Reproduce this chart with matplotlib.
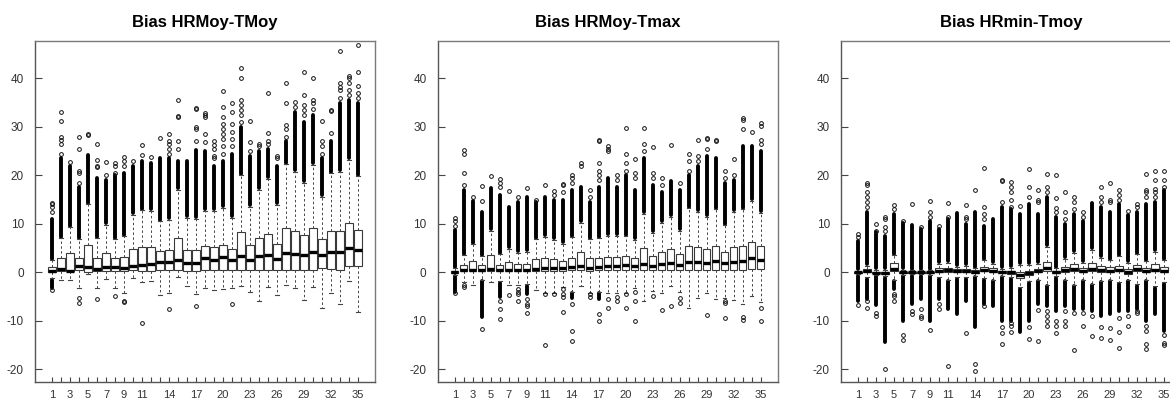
import numpy as np
import matplotlib
matplotlib.use("Agg")
import matplotlib.pyplot as plt

plt.rcParams['font.family'] = ['Liberation Sans', 'DejaVu Sans']

NAN = float('nan')
POSITIONS = list(range(1, 36))
XTICK_LABELS = ['1', '3', '5', '7', '9', '11', '14', '17', '20', '23', '26', '29', '32', '35']
YTICKS = [-20, -10, 0, 10, 20, 30, 40]
TITLES = ['Bias HRMoy-TMoy', 'Bias HRMoy-Tmax', 'Bias HRmin-Tmoy']

# ---------------- Panel 1 : Bias HRMoy-TMoy ----------------
P1_Q1 = [0, 0.3, 0.2, 0.4, 0.1, 0.3, 0.3, 0.3, 0.2, 0.4, 0.3, 0.3, 0.4, 0.4, 0.5, 0.3, 0.3, 0.5, 0.4, 0.5,
         0.5, 0.4, 0.5, 0.4, 0.4, 0.4, 0.4, 0.4, 0.4, 0.5, 1.0, 0.6, 0.4, 1.4, 1.4]
P1_MED = [0.3, 0.6, 0.3, 1.3, 1.2, 0.7, 1.1, 1.1, 1.0, 1.4, 1.6, 1.8, 2.2, 2.1, 2.5, 1.9, 1.9, 3.0, 2.5, 3.1,
          2.6, 3.3, 2.5, 3.3, 3.5, 2.8, 3.9, 3.8, 3.5, 4.3, 3.6, 4.2, 4.2, 5.1, 4.6]
P1_Q3 = [1.2, 3.0, 3.9, 2.9, 5.7, 2.9, 4.0, 2.9, 3.1, 4.9, 5.3, 5.2, 4.5, 4.6, 7.0, 4.7, 4.7, 5.4, 5.3, 5.6,
         4.9, 8.3, 5.7, 7.1, 8.0, 5.8, 9.2, 8.5, 7.7, 9.2, 6.9, 8.6, 8.6, 10.2, 8.8]
P1_WHI = [2.5, 7, 9.3, 6.8, 14, 7, 9.8, 6.8, 7.4, 11.8, 12.8, 12.7, 10.5, 10.8, 17, 11.3, 11, 12.7, 12.7, 13.3,
          11.3, 20, 13.5, 17, 19.3, 13.9, 22.3, 20.7, 18.5, 22.2, 15.5, 20.4, 20.7, 23.2, 19.8]
P1_WLO = [-1.2, -1.5, -1.5, -3.3, -0.3, -3.3, -1.3, -3.3, -4.3, -1.1, -2.0, -1.7, -4.7, -4.2, -1, -2.8, -4.5, -3.3,
          -3.7, -3.5, -3.2, -2.8, -4.1, -5.8, -3, -4.7, -2.7, -3.3, -5.7, -3.1, -7.4, -4.3, -6.5, -1.8, -8.2]
P1_UP_DENSE = [11, 23.5, 22, 17.5, 24.3, 19.5, 19, 20, 20.5, 22, 23, 22.5, 23.5, 23.5, 23, 23, 25.3, 25, 22, 23,
               24.5, 30, 24, 25, 25.5, 22, 27, 33, 31, 32.5, 23.5, 27, 35, 35.5, 35]
P1_LO_DENSE = [-3.3] + [NAN] * 34
P1_UP_SPARSE = [[12.5, 13.5, 14, 14.3], [24.5, 26.5, 27.2, 28, 31.2, 33], [22.7], [18.5, 20.5, 21, 25.5, 28],
                [28.3, 28.5], [21.8, 22, 23.2, 26.5], [20, 22.8], [20.5, 22, 22.6], [22, 23, 23.8], [23],
                [24.3, 26.3], [23.8], [27.8], [24.5, 25.5, 26.5, 27, 28.6], [25.5, 27, 32, 32.3, 35.6], [],
                [27, 29.5, 30, 33.6, 33.8], [26.8, 28.5, 32, 32.5, 32.8], [23.5, 24, 25.5, 26.2, 27],
                [24.5, 26, 27.5, 28.5, 29.5, 30.5, 32, 34, 37.4], [26, 27.5, 29, 30.5, 33, 35],
                [31, 32.5, 33.5, 34.5, 35.5, 40, 42.2], [25, 26.8, 31.2], [26, 26.5], [26.5, 27, 28.7, 37],
                [23.5, 24], [28, 29.5, 30.3, 35, 39], [34, 35.2], [32.5, 33.5, 34.5, 36.6, 41.4],
                [33.7, 35, 35.6, 40], [24.5, 26, 27, 31.3], [28.7, 33.2, 33.5], [36, 37.5, 38.3, 39, 45.7],
                [36.5, 37.5, 39, 40, 40.5], [36, 37, 38.5, 41.3, 46.8]]
P1_LO_SPARSE = [[-3.6], [], [], [-5.2, -6.3], [], [-5.4], [], [-4.9], [-5.8, -6.2], [], [-10.5], [], [],
                [-7.6], [], [], [-6.9], [], [], [], [-6.6], [], [], [], [], [], [], [], [], [], [], [], [], [], []]

# ---------------- Panel 2 : Bias HRMoy-Tmax ----------------
P2_Q1 = [-0.1, 0.2, 0.2, 0.2, 0.3, 0.2, 0.2, 0.2, 0.2, 0.3, 0.3, 0.3, 0.3, 0.4, 0.4, 0.3, 0.4, 0.4, 0.4, 0.4,
         0.4, 0.4, 0.4, 0.4, 0.4, 0.4, 0.4, 0.4, 0.4, 0.5, 0.5, 0.5, 0.5, 0.6, 0.6]
P2_MED = [0.1, 0.4, 0.4, 0.5, 0.7, 0.4, 0.5, 0.5, 0.5, 0.7, 0.8, 0.8, 1.0, 1.1, 1.3, 1.0, 1.1, 1.4, 1.4, 1.6,
          1.3, 1.8, 1.3, 1.8, 1.9, 1.6, 2.2, 2.1, 2.0, 2.4, 2.0, 2.2, 2.4, 2.9, 2.5]
P2_Q3 = [0.3, 1.6, 2.4, 1.5, 3.5, 1.6, 2.1, 1.8, 1.8, 2.8, 3.0, 2.7, 2.4, 2.9, 4.2, 2.9, 3.0, 3.1, 3.2, 3.3,
         2.9, 5.0, 3.4, 4.3, 4.9, 3.7, 5.5, 5.2, 4.8, 5.5, 4.3, 5.3, 5.5, 6.3, 5.4]
P2_WHI = [0.8, 3.5, 5.8, 3.3, 8.5, 3.7, 4.8, 4.0, 4.2, 6.8, 7.3, 6.7, 5.9, 7.2, 10.2, 6.8, 7.0, 7.5, 7.6, 7.4,
          6.7, 12, 8.2, 10.2, 11.5, 8.6, 13.2, 12.5, 11.5, 13, 9.7, 12.5, 13, 14.7, 12.3]
P2_WLO = [-0.5, -2, -2.6, -1.5, -2, -1.8, -2.6, -2.6, -2.4, -3.6, -4.3, -4.2, -3, -4, -2.8, -4.2, -4, -4.3, -4.2,
          -4.3, -3.3, -6, -3.8, -4.3, -2.9, -4, -7.3, -5.3, -4.2, -5.5, -5.3, -5.6, -6.5, -4.8, -6.1]
P2_UP_DENSE = [8.8, 17, 14.7, 12.5, 17.3, 16, 13.4, 14.5, 15.5, 14.5, 15.5, 15, 15, 17, 17.5, 14.5, 17.5, 19.5,
               17.5, 20, 17, 23.5, 18, 16.5, 18.8, 17, 20, 22, 24, 23.5, 18.5, 19, 26, 26, 25]
P2_LO_DENSE = [-4, NAN, NAN, -9.3, NAN, -5, NAN, NAN, -4.5, NAN, NAN, NAN, NAN, -5.2, NAN, NAN, -5.5, NAN,
               NAN, NAN, NAN, NAN, NAN, NAN, NAN, NAN, NAN, NAN, NAN, NAN, NAN, NAN, NAN, NAN, NAN]
P2_UP_SPARSE = [[9.5, 10.5, 11.3], [18, 20.5, 24.5, 25.2], [15.5], [14.8, 17.8], [19.8], [17.5, 18.5, 19.2],
                [16.8], [15.5], [17.3], [15], [18.1], [16, 16.7], [16.5, 18, 18.3], [18.5, 19.5, 20], [22, 22.5],
                [15.5, 17], [19, 20, 21, 22.5, 27, 27.3], [25, 25.5, 26], [19, 20], [21, 22.5, 24.5, 29.8],
                [19.5, 20.5, 23.3], [25, 26.5, 29.8], [19.5, 20.5, 25.8], [18, 19.5], [26.2], [18.5],
                [21, 23, 24.5], [23, 24, 27.3], [25.5, 27.5, 27.8], [27, 27.3], [19.5, 21], [20, 23.3],
                [29.6, 31.5, 31.9], [29], [26.5, 27.3, 30.1, 30.7]]
P2_LO_SPARSE = [[-4.3], [-2.5, -3], [], [-11.7], [], [-6, -7.5, -9.6], [-4.7], [-3.5, -4, -4.5, -6],
                [-5.5, -6.5, -7, -8.4], [], [-4.5, -15], [-4.5], [-3.5, -4.5, -5, -8.2], [-6.5, -12, -14.2], [],
                [-4.5, -5], [-8.5, -10], [-5.5, -7.3], [-5, -6], [-4.5, -7.3], [-4, -6, -10.1], [], [-4.8],
                [-7.7], [-7], [-5.3, -6.3], [], [], [-8.8], [], [-6, -6.3, -9.4], [], [-9.3, -9.9], [],
                [-7.3, -10]]

# ---------------- Panel 3 : Bias HRmin-Tmoy ----------------
P3_Q1 = [-0.1, 0, -0.2, -0.3, 0.3, -0.2, -0.1, -0.1, -0.1, 0.1, 0.1, 0, 0, -0.1, 0.2, 0.1, -0.2, -0.3, -1.2, -0.6,
         0, 0.2, -0.2, 0.1, 0.2, 0.1, 0.2, 0.1, 0.1, 0.2, -0.3, 0.2, 0, 0.2, 0]
P3_MED = [0, 0.2, -0.1, -0.1, 0.6, 0, 0, 0, 0, 0.3, 0.4, 0.2, 0.2, 0, 0.5, 0.3, 0, 0, -0.6, -0.1,
          0.3, 0.8, 0, 0.4, 0.6, 0.3, 0.6, 0.4, 0.3, 0.5, 0, 0.6, 0.2, 0.5, 0.2]
P3_Q3 = [0.1, 0.6, 0.1, 0.1, 1.9, 0.1, 0.1, 0.1, 0.1, 0.8, 0.9, 0.6, 0.6, 0.4, 1.2, 0.8, 0.2, 0.3, 0.1, 0.3,
         0.7, 2.2, 0.3, 1.2, 1.8, 0.8, 2.0, 1.3, 1.1, 1.4, 0.6, 1.6, 1.0, 1.8, 1.1]
P3_WHI = [0.3, 1.3, 0.5, 0.5, 3.5, 0.5, 0.4, 0.4, 0.4, 1.7, 1.9, 1.2, 1.3, 0.8, 2.5, 1.8, 0.7, 1.0, 1.5, 1.5,
          1.7, 5.2, 0.8, 2.8, 4.0, 2.0, 4.7, 3.0, 2.5, 3.3, 1.9, 3.7, 2.3, 4.3, 2.5]
P3_WLO = [-0.3, -1, -0.5, -0.8, -1.5, -0.5, -0.4, -0.4, -0.5, -1, -1.5, -1, -1, -0.7, -1.2, -1.5, -0.7, -1, -3,
          -1.8, -1.5, -2.5, -0.8, -1.5, -2.5, -1.5, -2.3, -1.7, -1.5, -2, -1.5, -2.4, -1.5, -2.8, -2]
P3_UP_DENSE = [6.5, 12.5, 8.3, 7.5, 12, 10.2, 9.8, 9, 10.5, 9, 11, 12.3, 10, 12.5, 9.5, 11, 13.5, 13, 12, 14,
               12, 15.5, 11.5, 10, 12, 10.5, 14.3, 13.5, 12.5, 14, 11.8, 12.5, 14, 14.5, 17]
P3_LO_DENSE = [-6, -5.5, -6.8, -14.3, -3.5, -10, -6.5, -5.5, -10, -5.5, -7.5, -8.5, -6, -11.3, -6.5, -7, -10,
               -10, -12.3, -10, -6.5, -7, -8, -7, -7.5, -7.5, -8, -9, -8.5, -8, -8, -7.5, -10, -8.5, -12]
P3_UP_SPARSE = [[7.2, 8], [13.5, 14.5, 15.5, 16.5, 18, 18.4], [8.6, 10], [8.5, 9.3, 11, 11.5], [13, 13.8],
                [10.5], [14], [9.3], [11.5, 12.5, 14.7], [9.5], [11.5, 14.4], [], [11, 11.5, 13.8], [17],
                [11, 12, 13.5, 21.5], [], [14.5, 18.8, 19], [13.5, 15, 16.5, 17.5, 18.7], [13.7],
                [15.5, 17.5, 21.3], [14.5, 15, 17], [16.5, 17.5, 20.3], [12.5, 13.2, 15.3, 20.1],
                [11, 12.5, 16.5], [13, 14.5, 15.5], [11.5, 12.5], [], [14.5, 15.5, 17.5], [14.5, 15, 18.5],
                [15, 16, 17], [12.7], [13.5, 14], [15.5, 16.5, 17, 20.2], [15.5, 16.5, 17.2, 19, 21],
                [17.5, 19, 20.8]]
P3_LO_SPARSE = [[-6.8], [-6, -7.3], [-8.3, -9], [-20], [-4.5, -4.9, -6], [-13, -14], [-8, -8.5],
                [-7.5, -9, -9.5], [-11.8], [-6.5, -7.5], [-19.2], [], [-12.5], [-18.9, -20.4], [-7], [],
                [-11.3, -12.5, -14.8], [-10.5, -11, -12.3], [], [-11.3, -13.7], [-7.8, -14.2],
                [-8, -9, -10, -11], [-10, -11, -12.5], [-8, -10, -11], [-8.3, -16], [-8.3, -11], [-9, -13.2],
                [-11.3, -13.5], [-11.5, -14], [-9.5, -12.3, -15.5], [-9, -11], [-8, -8.3],
                [-11, -12, -14.7, -15.8], [], [-13, -14.5, -15]]

PANELS = [
    (P1_Q1, P1_MED, P1_Q3, P1_WLO, P1_WHI, P1_UP_DENSE, P1_LO_DENSE, P1_UP_SPARSE, P1_LO_SPARSE),
    (P2_Q1, P2_MED, P2_Q3, P2_WLO, P2_WHI, P2_UP_DENSE, P2_LO_DENSE, P2_UP_SPARSE, P2_LO_SPARSE),
    (P3_Q1, P3_MED, P3_Q3, P3_WLO, P3_WHI, P3_UP_DENSE, P3_LO_DENSE, P3_UP_SPARSE, P3_LO_SPARSE),
]

# ---------------- Layout / style ----------------
FIG_W, FIG_H = 1170, 403
AX_LEFTS_PX = [35, 437.7, 841]
AX_W_PX = 340
AX_TOP_PX, AX_BOT_PX = 41, 382
GAP = 0.35  # offset between whisker end and first outlier

fig = plt.figure(figsize=(FIG_W / 100, FIG_H / 100), dpi=100)

for k, (q1, med, q3, wlo, whi, upd, lod, ups, los) in enumerate(PANELS):
    ax = fig.add_axes([AX_LEFTS_PX[k] / FIG_W, 1 - AX_BOT_PX / FIG_H,
                       AX_W_PX / FIG_W, (AX_BOT_PX - AX_TOP_PX) / FIG_H])
    stats = []
    for i in range(35):
        stats.append(dict(med=med[i], q1=q1[i], q3=q3[i], whislo=wlo[i], whishi=whi[i],
                          fliers=list(ups[i]) + list(los[i])))
    # dense outlier columns
    xs = np.array(POSITIONS, dtype=float)
    upd_a = np.array(upd, dtype=float)
    lod_a = np.array(lod, dtype=float)
    whi_a = np.array(whi, dtype=float)
    wlo_a = np.array(wlo, dtype=float)
    m = ~np.isnan(upd_a)
    ax.vlines(xs[m], whi_a[m] + GAP, upd_a[m], colors='black', linewidth=2.8,
              capstyle='round', zorder=3)
    m = ~np.isnan(lod_a)
    ax.vlines(xs[m], wlo_a[m] - GAP, lod_a[m], colors='black', linewidth=2.8,
              capstyle='round', zorder=3)

    ax.bxp(stats, positions=POSITIONS, widths=0.8, showfliers=True, patch_artist=True,
           boxprops=dict(facecolor='white', edgecolor='#3a3a3a', linewidth=0.8),
           medianprops=dict(color='black', linewidth=2.4, solid_capstyle='butt'),
           whiskerprops=dict(color='#444444', linewidth=0.7, linestyle=(0, (2.5, 2.5))),
           capprops=dict(color='#444444', linewidth=0.8),
           capwidths=0.4,
           flierprops=dict(marker='o', markersize=2.7, markerfacecolor='none',
                           markeredgecolor='#111111', markeredgewidth=0.7),
           zorder=4)

    ax.set_xlim(-0.9, 36.9)
    ax.set_ylim(-22.6, 47.7)
    ax.set_xticks(POSITIONS)
    lbls = [str(p) if str(p) in XTICK_LABELS else '' for p in POSITIONS]
    ax.set_xticklabels(lbls)
    ax.set_yticks(YTICKS)
    ax.set_yticklabels([str(v) for v in YTICKS])
    ax.tick_params(axis='x', direction='in', length=3.5, width=0.8, color='#444444',
                   labelsize=8, labelcolor='#333333', pad=6)
    ax.tick_params(axis='y', direction='in', length=5, width=0.8, color='#444444',
                   labelsize=8.5, labelcolor='#333333', pad=8)
    for s in ax.spines.values():
        s.set_color('#7a7a7a')
        s.set_linewidth(1.0)
    ax.spines['left'].set_color('#555555')
    ax.spines['bottom'].set_color('#555555')
    ax.set_title(TITLES[k], fontsize=12, fontweight='bold', pad=10)

fig.savefig('out.png', dpi=100)
